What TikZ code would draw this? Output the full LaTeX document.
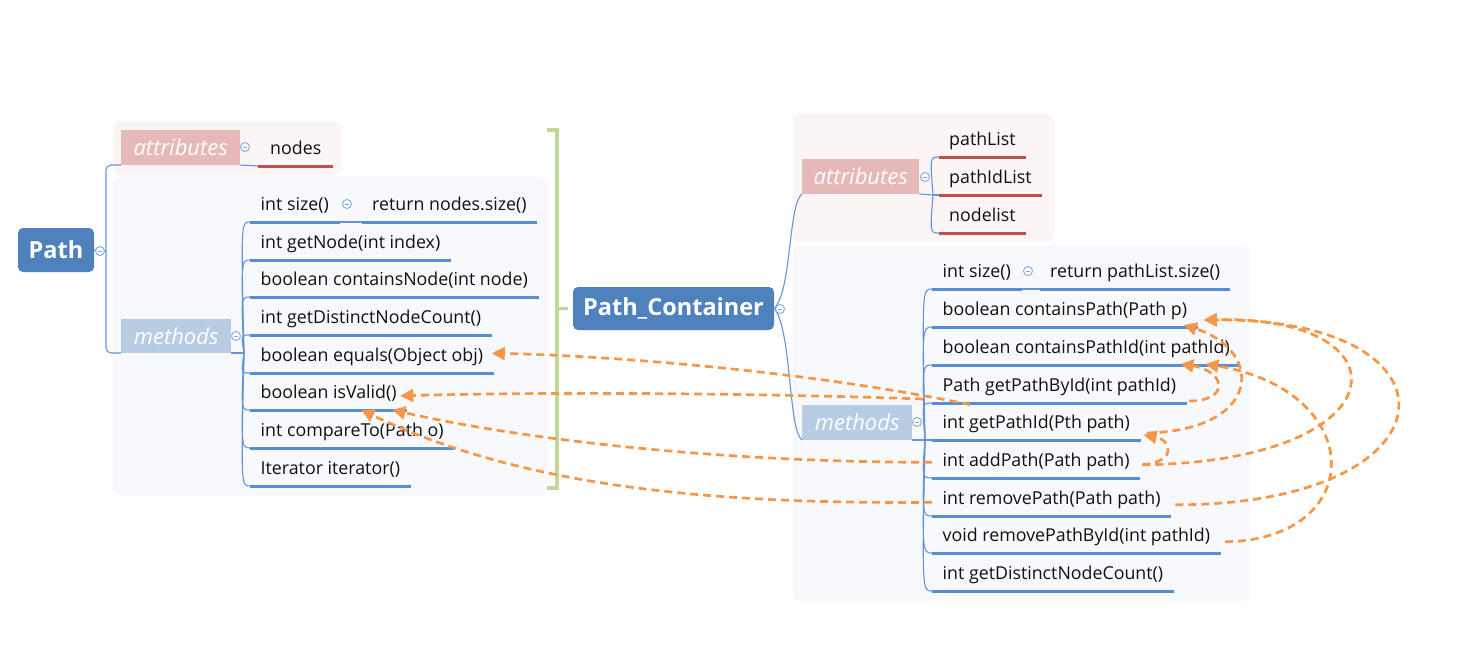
\documentclass[tikz,border=0pt]{standalone}
\usepackage{fontspec}
\setmainfont{Open Sans}
\usetikzlibrary{arrows.meta,calc}
\definecolor{rootblue}{RGB}{79,129,189}
\definecolor{linkblue}{RGB}{100,149,220}
\definecolor{ulblue}{RGB}{85,142,213}
\definecolor{ulred}{RGB}{192,80,77}
\definecolor{attrpink}{RGB}{230,184,183}
\definecolor{methblue}{RGB}{184,204,228}
\definecolor{bgpink}{RGB}{251,245,245}
\definecolor{bgblue}{RGB}{247,249,252}
\definecolor{brgreen}{RGB}{195,214,155}
\definecolor{relorange}{RGB}{247,150,70}
\definecolor{iconblue}{RGB}{130,170,225}
\definecolor{txt}{RGB}{17,17,17}
\tikzset{
  rootbox/.style={fill=rootblue, rounded corners=5pt, text=white, inner sep=0pt,
    font=\fontsize{23.5}{28}\selectfont\bfseries},
  catbox/.style={inner sep=0pt, text=white, anchor=south west,
    font=\fontsize{22}{26}\selectfont\itshape},
  item/.style={anchor=south west, inner xsep=10.5pt, inner ysep=7pt,
    text height=13pt, text depth=4pt, text=txt, font=\fontsize{17.8}{21}\selectfont},
  ulb/.style={draw=ulblue, line width=3pt},
  ulr/.style={draw=ulred, line width=3pt},
  conn/.style={draw=linkblue, line width=1.1pt},
  collapse/.style={circle, draw=iconblue, fill=white, line width=0.9pt,
    minimum size=9pt, inner sep=0pt,
    path picture={\draw[iconblue, line width=0.9pt]
      ([xshift=-2.3pt]path picture bounding box.center) --
      ([xshift=2.3pt]path picture bounding box.center);}},
  brk/.style={draw=brgreen, line width=3.2pt},
  rel/.style={draw=relorange, line width=2.7pt, dash pattern=on 8pt off 5pt,
    -{Triangle[length=13pt,width=13pt]}},
}
\begin{document}
\begin{tikzpicture}[x=1pt,y=-1pt]
\useasboundingbox (0,0) rectangle (1478,669);
% group backgrounds
\fill[bgpink, rounded corners=7pt] (113,121) rectangle (341,175);
\fill[bgblue, rounded corners=7pt] (113,177) rectangle (548,495);
\fill[bgpink, rounded corners=7pt] (793,113) rectangle (1054,242);
\fill[bgblue, rounded corners=7pt] (793,245) rectangle (1250,601);

% roots
\node[rootbox, minimum width=76pt, minimum height=44pt] (path) at (56,250) {Path};
\node[rootbox, minimum width=201pt, minimum height=43pt] (pc) at (673.5,308.5) {Path\_Container};

% categories
\node[catbox, fill=attrpink, minimum width=119pt, minimum height=35pt] (la) at (121,165) {attributes};
\node[catbox, fill=methblue, minimum width=110pt, minimum height=34pt] (lm) at (121,353) {methods};
\node[catbox, fill=attrpink, minimum width=117pt, minimum height=35pt] (ra) at (802,194) {attributes};
\node[catbox, fill=methblue, minimum width=110pt, minimum height=35pt] (rm) at (802,440) {methods};

% left attribute item
\node[item, inner xsep=12pt] (lnodes) at (258,166) {nodes};
% right attribute items
\node[item, inner xsep=10pt] (rpl) at (939,157) {pathList};
\node[item, inner xsep=10pt] (rpil) at (939,195) {pathIdList};
\node[item, inner xsep=10pt] (rnl) at (939,233) {nodelist};

% left methods
\node[item] (lsize) at (250,222) {int size()};
\node[item, inner xsep=10pt] (lret) at (362,222) {return nodes.size()};
\node[item] (lgn) at (250,260) {int getNode(int index)};
\node[item] (lcn) at (250,297) {boolean containsNode(int node)};
\node[item] (ldc) at (250,335) {int getDistinctNodeCount()};
\node[item] (leq) at (250,373) {boolean equals(Object obj)};
\node[item] (liv) at (250,410) {boolean isValid()};
\node[item] (lct) at (250,448) {int compareTo(Path o)};
\node[item] (lit) at (250,486) {Iterator iterator()};

% right methods
\node[item] (rsize) at (932,289) {int size()};
\node[item, inner xsep=10pt] (rret) at (1040,289) {return pathList.size()};
\node[item] (rcp) at (932,327) {boolean containsPath(Path p)};
\node[item] (rcpi) at (932,365) {boolean containsPathId(int pathId)};
\node[item] (rgpb) at (932,403) {Path getPathById(int pathId)};
\node[item] (rgpi) at (932,440) {int getPathId(Pth path)};
\node[item] (rap) at (932,478) {int addPath(Path path)};
\node[item] (rrp) at (932,516) {int removePath(Path path)};
\node[item] (rrpb) at (932,553) {void removePathById(int pathId)};
\node[item] (rdc) at (932,591) {int getDistinctNodeCount()};

% underlines
\draw[ulr] (lnodes.south west) -- (lnodes.south east);
\foreach \n in {rpl,rpil,rnl} \draw[ulr] (\n.south west) -- (\n.south east);
\foreach \n in {lsize,lret,lgn,lcn,ldc,leq,liv,lct,lit,rsize,rret,rcp,rcpi,rgpb,rgpi,rap,rrp,rrpb,rdc}
  \draw[ulb] (\n.south west) -- (\n.south east);

% connectors
\coordinate (lpo) at (106,251);
\draw[conn] (path.east) -- (lpo);
\draw[conn, rounded corners=5pt] (la.south west) -| (lpo) |- (lm.south west);
\draw[conn] (la.south east) -- (lnodes.south west);
\coordinate (lmo) at (244,353);
\draw[conn] (lm.south east) -- (lmo);
\foreach \n in {lsize,lgn,lcn,ldc,leq,liv,lct,lit}
  \draw[conn] (lmo) .. controls ($(lmo |- \n.south west)+(-3,0)$) .. (\n.south west);
\draw[conn] (lsize.south east) -- (lret.south west);

\draw[conn] (pc.east) .. controls (792,290) and (788,205) .. (ra.south west);
\draw[conn] (pc.east) .. controls (792,330) and (788,430) .. (rm.south west);
\coordinate (rao) at (933,195);
\draw[conn] (ra.south east) -- (rao);
\draw[conn] (rao) .. controls (930,157) .. (rpl.south west);
\draw[conn] (rao) -- (rpil.south west);
\draw[conn] (rao) .. controls (930,233) .. (rnl.south west);
\coordinate (rmo) at (925,440);
\draw[conn] (rm.south east) -- (rmo);
\foreach \n in {rsize,rcp,rcpi,rgpb,rap,rrp,rrpb,rdc}
  \draw[conn] (rmo) .. controls ($(rmo |- \n.south west)+(-3,0)$) .. (\n.south west);
\draw[conn] (rmo) -- (rgpi.south west);
\draw[conn] (rsize.south east) -- (rret.south west);

% collapse icons
\node[collapse] (ipath) at (100,251) {};
\node[collapse] (ila) at (245,147) {};
\node[collapse] (ilm) at (236,336) {};
\node[collapse] (ils) at (347,204) {};
\node[collapse] (ipc) at (780,309) {};
\node[collapse] (ira) at (925,177) {};
\node[collapse] (irm) at (917,422) {};
\node[collapse] (irs) at (1028,271) {};

% summary bracket
\coordinate (bt) at (547,130);
\coordinate (bb) at (547,488);
\coordinate (bm) at (557,309);
\draw[brk] (bt) -- (557,130) -- (557,488) -- (bb);
\draw[brk] (bm) -- ([xshift=-5pt]pc.west);

% relationships
\draw[rel] ($(rgpi.north west)+(38,-4)$) .. controls +(-170,-35) and +(107,2) .. ($(leq.east)+(-2,-4)$);
\draw[rel] ($(rgpb.south west)+(-9,-4)$) .. controls +(-173,-6) and +(150,-4) .. ($(liv.east)+(-7,1.5)$);
\draw[rel] (rap.west) .. controls +(-182,0) and +(157,35) .. ($(liv.south east)+(-15,0)$);
\draw[rel] ($(rrp.west)+(0,2)$) .. controls +(-232,2) and +(158,75) .. ($(liv.south east)+(-46,0)$);
\draw[rel] ($(rgpi.south east)+(6,-7)$) .. controls +(117,-3) and +(80,25) .. ($(rcp.south east)+(-14,-2)$);
\draw[rel] ($(rap.east)+(2,2.5)$) .. controls +(35,-3) and +(28,5) .. ($(rgpi.south east)+(3,-5)$);
\draw[rel] ($(rgpb.south east)+(2,-2)$) .. controls +(42,0) and +(45,7) .. ($(rcpi.south east)+(-60,-1)$);
\draw[rel] ($(rap.east)+(2,2.5)$) .. controls +(260,-3) and +(208,-5) .. ($(rcp.south east)+(6,-7)$);
\draw[rel] ($(rrp.east)+(4,4.5)$) .. controls +(285,0) and +(268,-2) .. ($(rcp.south east)+(6,-7)$);
\draw[rel] ($(rrpb.east)+(4,4.5)$) .. controls +(143,-2) and +(163,27) .. ($(rcpi.south east)+(-35,-1)$);
\end{tikzpicture}
\end{document}
